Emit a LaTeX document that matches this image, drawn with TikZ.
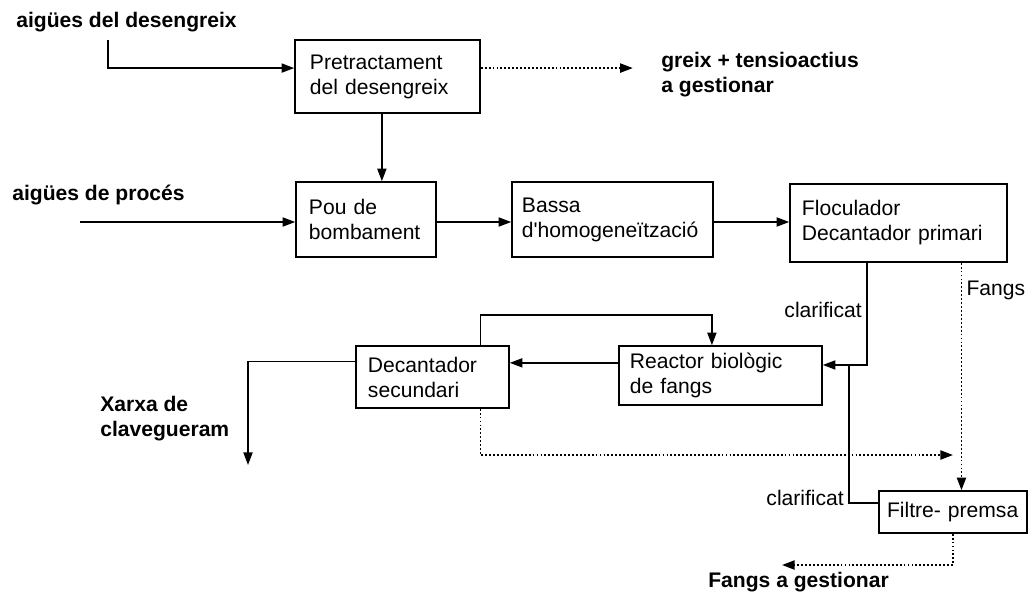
\documentclass[tikz,border=0pt]{standalone}
\usepackage{fontspec}
\setmainfont{Liberation Sans}
\usetikzlibrary{arrows.meta,calc}

\begin{document}
\begin{tikzpicture}[x=0.025cm, y=-0.025cm,
    font=\fontsize{15}{17.8}\selectfont,
    process/.style={rectangle, draw, line width=1.1pt, align=left, inner ysep=0pt},
    flow/.style={line width=1.1pt, -{Triangle[length=9pt,width=6.5pt]}},
    waste/.style={flow, line width=1.3pt, dash pattern=on 1.3pt off 1.5pt},
    pipe/.style={line width=1.1pt},
    ext/.style={font=\fontsize{15}{17.8}\selectfont\bfseries, align=left, anchor=west, inner sep=0pt},
    tag/.style={inner sep=3pt}]
    \useasboundingbox (0,0) rectangle (1029,594);

    % treatment units
    \node [process, inner xsep=0.375cm, text width=3.875cm, minimum height=1.825cm] (pretract) at (387.5,76.5) {Pretractament\\del desengreix};
    \node [process, inner xsep=0.325cm, text width=2.85cm, minimum height=1.875cm] (pou) at (366,219.5) {Pou de\\bombament};
    \node [process, inner xsep=0.25cm, text width=4.525cm, minimum height=1.875cm] (bassa) at (612.5,219.5) {Bassa\\d\textquotesingle homogeneïtzació};
    \node [process, inner xsep=0.3cm, text width=4.825cm, minimum height=1.95cm] (floc) at (898.5,223) {Floculador\\Decantador primari};
    \node [process, inner xsep=0.275cm, text width=4.525cm, minimum height=1.475cm] (reactor) at (720.5,375.5) {Reactor biològic\\de fangs};
    \node [process, inner xsep=0.3cm, text width=3.225cm, minimum height=1.55cm] (decsec) at (432.5,377) {Decantador\\secundari};
    \node [process, inner xsep=0.2cm, text width=3.3cm, minimum height=1.05cm] (filtre) at (953,512) {Filtre- premsa};

    % inputs and outputs
    \node [ext] (desengreix) at (16,22) {aigües del desengreix};
    \node [ext] (proces) at (12,195) {aigües de procés};
    \node [ext] (greix) at (661,74.5) {greix + tensioactius\\a gestionar};
    \node [ext] (xarxa) at (100,418.5) {Xarxa de\\clavegueram};
    \node [ext] (fangsout) at (708,582) {Fangs a gestionar};

    \coordinate (desA) at (108,40);
    \coordinate (procA) at (80,222);
    \coordinate (sewer) at (248,465);
    \coordinate (sludgeEnd) at (953,455);
    \coordinate (cakeEnd) at (782,565);
    \coordinate (clarA) at ($(floc.south west)!0.355!(floc.south east)$);
    \coordinate (fangA) at ($(floc.south west)!0.788!(floc.south east)$);
    \coordinate (loopA) at ($(decsec.north west)!0.81!(decsec.north east)$);
    \coordinate (loopB) at ($(reactor.north west)!0.458!(reactor.north east)$);
    \coordinate (decS) at ($(decsec.south west)!0.81!(decsec.south east)$);
    \path ([yshift=7.5pt]reactor.east) ++(26,0) coordinate (jn);

    % main line
    \draw[flow] (desA) |- ([yshift=6pt]pretract.west);
    \draw[waste] ([yshift=6pt]pretract.east) -- ++(152,0);
    \draw[flow] ([xshift=-4pt]pretract.south) -- ([xshift=-4pt]pretract.south |- pou.north);
    \draw[flow] (procA) -- (procA -| pou.west);
    \draw[flow] (procA -| pou.east) -- (procA -| bassa.west);
    \draw[flow] (procA -| bassa.east) -- (procA -| floc.west);

    % clarified water and sludge
    \draw[flow] (clarA) |- node[tag, left, pos=0.23] {clarificat} ([yshift=7.5pt]reactor.east);
    \draw[pipe] ([yshift=6.4pt]filtre.west) -| node[tag, left, pos=0.52] {clarificat} (jn);
    \draw[waste] (fangA) -- node[tag, right, pos=0.12] {Fangs} (fangA |- filtre.north);
    \draw[flow] ([yshift=9pt]reactor.west) -- ([yshift=9pt]reactor.west -| decsec.east);
    \draw[flow] (loopA) -- ++(0,-30) -| (loopB);
    \draw[flow] ([yshift=11pt]decsec.west) -| (sewer);
    \draw[waste] (decS) |- (sludgeEnd);
    \draw[waste] (filtre.south) |- (cakeEnd);
\end{tikzpicture}
\end{document}
